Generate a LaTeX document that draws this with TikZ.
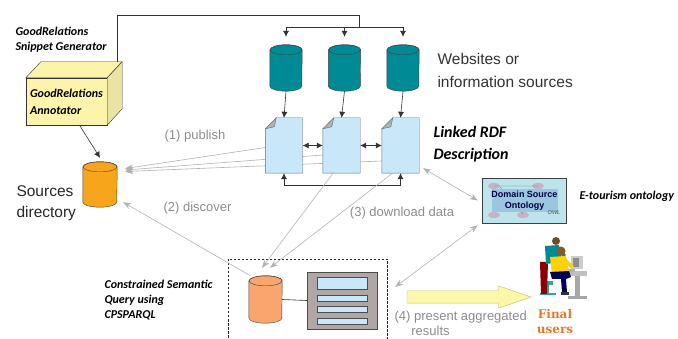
\documentclass[tikz,border=0pt]{standalone}
\usepackage{fontspec}
\setmainfont{Liberation Sans}
\newfontfamily\calibri{Carlito}
\newfontfamily\slab{DejaVu Serif}
\usetikzlibrary{shapes.arrows,arrows.meta}
\definecolor{tealdb}{RGB}{0,138,150}
\definecolor{docblue}{RGB}{200,232,250}
\definecolor{docline}{RGB}{90,110,130}
\definecolor{srcorange}{RGB}{247,166,27}
\definecolor{qorange}{RGB}{248,165,110}
\definecolor{annotyellow}{RGB}{252,244,170}
\definecolor{panelgray}{RGB}{176,166,166}
\definecolor{linkgray}{RGB}{178,178,178}
\definecolor{notegray}{RGB}{140,140,140}
\definecolor{ontocyan}{RGB}{188,228,234}
\definecolor{ontoblue}{RGB}{150,195,225}
\definecolor{ontopink}{RGB}{200,178,200}
\definecolor{arrowyellow}{RGB}{250,246,170}
\definecolor{finalorange}{RGB}{232,120,40}
\begin{document}
\begin{tikzpicture}[x=1pt,y=-1pt,
    db/.style={inner sep=0pt},
    doc/.style={minimum width=37pt, minimum height=55pt, inner sep=0pt},
    wire/.style={draw=black!80, line width=0.6pt},
    flow/.style={wire, -{Latex[length=6pt,width=6pt]}},
    flow2/.style={wire, {Latex[length=6pt,width=6pt]}-{Latex[length=6pt,width=6pt]}},
    link/.style={draw=linkgray, line width=0.6pt, -{Stealth[length=8pt,width=6pt,inset=2.5pt]}},
    link2/.style={link, {Stealth[length=8pt,width=6pt,inset=2.5pt]}-{Stealth[length=8pt,width=6pt,inset=2.5pt]}},
    note/.style={text=notegray, font=\fontsize{13}{16}\selectfont},
    tag/.style={font=\calibri\bfseries\itshape\fontsize{12}{15}\selectfont, align=left}]
  \clip (0,0) rectangle (678,339);

  % annotator (3d box)
  \node[draw=black!80, fill=annotyellow, minimum width=81pt, minimum height=47pt,
        tag, font=\calibri\bfseries\itshape\fontsize{12}{17}\selectfont] (annot) at (66.5,101.5) {GoodRelations\\Annotator};
  \draw[draw=black!80, fill=annotyellow] (annot.north west) -- ++(15,-16) -- ++(81,0) -- (annot.north east) -- cycle;
  \draw[draw=black!80, fill=annotyellow!85!gray] (annot.north east) -- ++(15,-16) -- ++(0,47) -- (annot.south east) -- cycle;
  \node[tag, anchor=west] (genlabel) at (12,40) {GoodRelations\\Snippet Generator};

  % databases
  \node[db, minimum width=34pt, minimum height=45pt] (srcdir) at (100,184.5) {};
  \foreach \i/\x in {1/286,2/344.5,3/403}
    \node[db, minimum width=32pt, minimum height=46pt] (web\i) at (\x,68) {};
  \node[db, minimum width=33pt, minimum height=47pt] (query) at (265.5,299.5) {};
  \foreach \c/\rx/\col in {srcdir/17/srcorange, web1/16/tealdb, web2/16/tealdb, web3/16/tealdb, query/16.5/qorange} {
    \draw[draw=black!75, fill=\col] ([yshift=-5pt]\c.north west) -- ([yshift=5pt]\c.south west)
      arc[start angle=180, end angle=360, x radius=\rx pt, y radius=5pt] -- ([yshift=-5pt]\c.north east)
      arc[start angle=0, end angle=180, x radius=\rx pt, y radius=5pt] -- cycle;
    \draw[draw=black!75] ([yshift=-5pt]\c.north) ellipse [x radius=\rx pt, y radius=5pt];
  }

  % sources directory
  \node[anchor=west, align=left, text=black!85, font=\fontsize{15.5}{21}\selectfont] (srclabel) at (13,203) {Sources\\directory};
  \draw[flow] ([xshift=13pt]annot.south) -- ([yshift=4pt]srcdir.north);

  % websites
  \coordinate (fork) at (359,27);
  \coordinate (top) at (359,15);
  \draw[wire] ([xshift=10pt,yshift=16pt]annot.north east) |- (top) -- (fork);
  \draw[wire] (web1.north |- fork) -- (web3.north |- fork);
  \foreach \w in {web1,web2,web3}
    \draw[flow] (\w.north |- fork) -- ([yshift=8pt]\w.north);
  \node[anchor=west, align=left, text=black!80, font=\fontsize{15.5}{23}\selectfont] (weblabel) at (434,70) {Websites or\\information sources};

  % linked rdf descriptions
  \foreach \i/\x in {1/284,2/341.5,3/400.5}
    \node[doc] (rdf\i) at (\x,145.5) {};
  \draw[link] ([yshift=-2pt]rdf1.west) -- ([xshift=8pt,yshift=16pt]srcdir.east);
  \draw[link] ([yshift=-9.5pt]rdf2.west) -- ([xshift=8pt,yshift=14.5pt]srcdir.east);
  \draw[link] ([yshift=-15.5pt]rdf3.west) -- ([xshift=8pt,yshift=13pt]srcdir.east);
  \foreach \d in {rdf1,rdf2,rdf3} {
    \draw[draw=docline, fill=docblue] ([xshift=11pt]\d.north west) -- (\d.north east) -- (\d.south east)
      -- (\d.south west) -- ([yshift=-11pt]\d.north west) -- cycle;
    \draw[draw=docline, fill=gray!60] ([xshift=11pt]\d.north west) -- ([yshift=-11pt]\d.north west)
      -- ([xshift=9pt,yshift=-9pt]\d.north west) -- cycle;
  }
  \foreach \i in {1,2,3}
    \draw[flow] (web\i.south) -- (rdf\i.north);
  \draw[flow2] (rdf1) -- (rdf2);
  \draw[flow2] (rdf2) -- (rdf3);
  \draw[flow2] (rdf1.south) -- ++(0,12) -| (rdf3.south);
  \node[tag, anchor=west, font=\calibri\bfseries\itshape\fontsize{16}{22}\selectfont] (rdflabel) at (430,144) {Linked RDF\\Description};
  \node[note] (publish) at (195,136) {(1) publish};

  % domain ontology
  \node[draw=black!75, fill=ontocyan, minimum width=84pt, minimum height=45pt] (onto) at (524,200.5) {};
  \foreach \x/\y in {494/186,538/186,494/215,523/215}
    \fill[ontopink] (\x,\y) ellipse (6pt and 3pt);
  \draw[ontoblue!60!black, line width=0.3pt] (494,186) -- (538,186) (500,187) -- (523,214);
  \fill[ontoblue, opacity=0.9] (492,189) rectangle (558,212);
  \node[align=center, text=black!75!blue, font=\bfseries\fontsize{9}{11}\selectfont] (ontotext) at (524.5,201) {Domain Source\\Ontology};
  \node[text=black!70, font=\itshape\fontsize{5.5}{6}\selectfont] (owl) at (554,213) {OWL};
  \node[tag, anchor=west] (etour) at (576,196) {E-tourism ontology};
  \draw[link2] ([xshift=4pt,yshift=5pt]rdf3.south east) -- ([xshift=-4pt]onto.west);

  % constrained query
  \node[draw=black!85, dashed, dash pattern=on 2.5pt off 1.5pt, minimum width=159pt, minimum height=86pt] (qbox) at (307.5,302) {};
  \node[draw=black!70, fill=panelgray, minimum width=70pt, minimum height=57pt] (panel) at (342,300.5) {};
  \draw[draw=black!70, fill=docblue] (317,277) rectangle (367,289);
  \draw[draw=black!70, fill=docblue] (317,295) rectangle (367,301);
  \draw[draw=black!70, fill=docblue] (317,306) rectangle (367,312);
  \draw[draw=black!70, fill=docblue] (317,318) rectangle (367,324);
  \draw[wire] (query.east) -- (panel.west);
  \node[tag, anchor=west] (qlabel) at (101,300) {Constrained Semantic\\Query using\\CPSPARQL};

  \draw[link] ([xshift=-15pt]query.north) -- ([xshift=6pt,yshift=5pt]srcdir.south east);
  \node[note] (discover) at (197.5,208) {(2) discover};
  \draw[link] ([xshift=-8.5pt]rdf2.south) -- ([xshift=-3.5pt,yshift=8pt]query.north);
  \draw[link] ([xshift=-8pt]rdf3.south) -- ([xshift=4.5pt,yshift=8pt]query.north);
  \node[note] (download) at (402,213) {(3) download data};
  \draw[link2] ([xshift=-4pt,yshift=-2pt]onto.south west) -- ([xshift=8pt,yshift=15pt]qbox.east);

  % final users
  \node[minimum width=52pt, minimum height=62pt] (users) at (559,268) {};
  \fill[black!25] (566,271) rectangle (587,276);
  \fill[black!35] (575,276) rectangle (580,297);
  \fill[black!35] (568,296) rectangle (587,299);
  \fill[black!20] (571,256) rectangle (583,269);
  \fill[black!45] (573,258) rectangle (579,267);
  \fill[black!30] (562,269) rectangle (575,272);
  \fill[tealdb!80] (541,281) rectangle (553,285);
  \fill[tealdb!80] (546,285) rectangle (549,294);
  \fill[tealdb!80] (540,293) rectangle (556,295);
  \fill[red!55!black] (540,262) -- (548,262) -- (547,294) -- (541,294) -- cycle;
  \fill[tealdb] (545,246) -- (559,245) -- (562,262) -- (546,264) -- cycle;
  \fill[tealdb] (559,247) -- (566,255) -- (563,257) -- (557,251) -- cycle;
  \fill[brown!60!black] (556,241) circle (4pt);
  \fill[yellow!70!orange] (550,257) -- (566,256) -- (569,272) -- (552,275) -- cycle;
  \fill[yellow!70!orange] (565,258) -- (574,266) -- (571,268) -- (563,262) -- cycle;
  \fill[blue!35!black] (550,272) -- (569,271) -- (571,277) -- (566,279) -- (567,292) -- (562,292) -- (561,279) -- (552,279) -- cycle;
  \fill[black!80] (561,292) rectangle (569,295);
  \fill[brown!70!black] (561,251) circle (4.5pt);
  \node[align=center, text=finalorange, font=\slab\bfseries\fontsize{12}{15}\selectfont] (final) at (555,322) {Final\\users};

  % present results
  \node[single arrow, draw=yellow!45!gray, fill=arrowyellow, minimum height=124pt, inner xsep=0pt, inner ysep=6pt,
        single arrow head extend=5pt, single arrow tip angle=38] (present) at (460,297) {};
  \node[note, anchor=west] (presentA) at (391,317) {(4) present aggregated};
  \node[note] (presentB) at (430.5,331) {results};
\end{tikzpicture}
\end{document}
